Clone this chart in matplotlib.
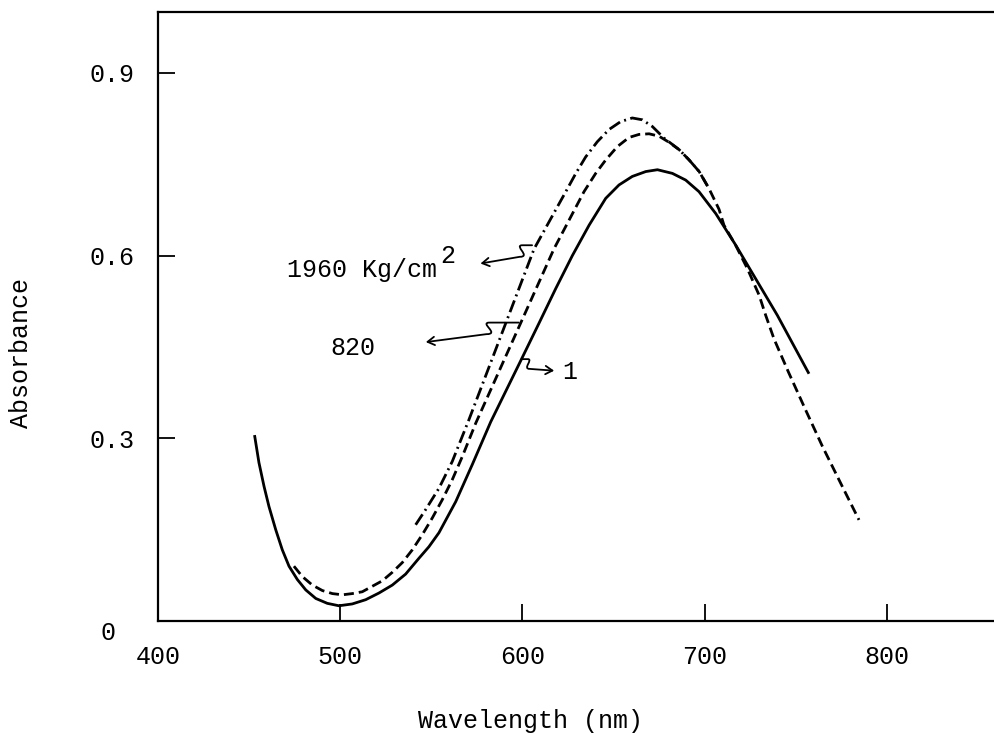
import matplotlib
matplotlib.use("Agg")
import matplotlib.pyplot as plt
import matplotlib.transforms as mtransforms
from matplotlib.path import Path
from matplotlib.patches import FancyArrowPatch

plt.rcParams['font.family'] = ['Liberation Mono', 'DejaVu Sans Mono']

# 1 kg/cm2 (solid)
wl_1 = [453.1, 455.4, 458.2, 460.9, 464.6, 468.2, 471.9, 476.5, 481.1, 486.6,
        492.9, 499.3, 506.6, 514.0, 521.3, 528.6, 535.9, 543.2, 548.7, 554.2,
        563.4, 572.5, 582.6, 599.0, 609.1, 618.3, 627.4, 636.6, 645.7, 653.0,
        660.3, 667.7, 674.1, 682.3, 689.6, 696.9, 706.1, 717.1, 728.0, 739.9,
        756.9]
abs_1 = [0.303, 0.260, 0.221, 0.188, 0.150, 0.117, 0.090, 0.068, 0.051, 0.037,
         0.029, 0.025, 0.028, 0.035, 0.046, 0.059, 0.077, 0.103, 0.122, 0.145,
         0.196, 0.257, 0.327, 0.427, 0.489, 0.546, 0.600, 0.650, 0.694, 0.716,
         0.730, 0.738, 0.741, 0.735, 0.724, 0.705, 0.669, 0.617, 0.562, 0.502,
         0.408]

# 820 kg/cm2 (dashed)
wl_820 = [474.6, 479.2, 484.7, 490.2, 495.7, 501.2, 506.6, 512.1, 517.6, 523.1,
          528.6, 534.1, 539.6, 545.1, 550.5, 556.0, 561.5, 567.0, 574.4, 617.3,
          633.8, 640.2, 645.7, 652.1, 658.5, 664.0, 669.5, 675.0, 680.5, 686.0,
          691.5, 697.0, 702.4, 707.9, 710.6, 717.0, 723.4, 729.9, 733.5, 738.1,
          746.1, 755.5, 764.6, 774.7, 784.7]
abs_820 = [0.090, 0.073, 0.059, 0.050, 0.045, 0.043, 0.045, 0.048, 0.057, 0.066,
           0.080, 0.096, 0.117, 0.142, 0.169, 0.199, 0.232, 0.270, 0.325, 0.611,
           0.705, 0.735, 0.757, 0.779, 0.794, 0.799, 0.800, 0.796, 0.786, 0.774,
           0.757, 0.738, 0.710, 0.676, 0.650, 0.617, 0.579, 0.535, 0.502, 0.463,
           0.408, 0.346, 0.287, 0.226, 0.166]

# 1960 kg/cm2 (dash-dot)
wl_1960 = [541.4, 546.9, 554.2, 561.5, 570.7, 606.4, 617.3, 623.8, 629.3, 634.7,
           641.1, 647.5, 653.9, 660.3, 665.8, 671.3, 677.7, 686.0, 691.5, 697.0,
           702.4]
abs_1960 = [0.158, 0.183, 0.218, 0.262, 0.331, 0.611, 0.670, 0.705, 0.735, 0.762,
            0.787, 0.807, 0.820, 0.826, 0.823, 0.812, 0.793, 0.774, 0.757, 0.738,
            0.710]

x_ticks = [400, 500, 600, 700, 800]
y_ticks = [0, 0.3, 0.6, 0.9]
y_tick_labels = ["0", "0.3", "0.6", "0.9"]

FS = 18

fig = plt.figure(figsize=(9.94, 7.33), dpi=100)
ax = fig.add_axes([158/994, 112/733, 836/994, 609/733])

ax.plot(wl_1, abs_1, color='black', lw=2.0)
ax.plot(wl_820, abs_820, color='black', lw=2.0, linestyle=(0, (3.6, 1.8)))
ax.plot(wl_1960, abs_1960, color='black', lw=2.0, linestyle=(0, (4.5, 1.6, 0.7, 1.6)))

ax.set_xlim(400, 858.8)
ax.set_ylim(0, 1.0)
ax.set_xticks(x_ticks)
ax.set_yticks(y_ticks)
ax.set_yticklabels(y_tick_labels)
ax.tick_params(direction='in', length=12, width=1.3, labelsize=FS, pad=17)
ax.spines['right'].set_visible(False)
for s in ['left', 'bottom', 'top']:
    ax.spines[s].set_linewidth(1.6)

# the "0" label sits lower and further left
zero_lbl = ax.get_yticklabels()[0]
zero_lbl.set_transform(zero_lbl.get_transform() +
                       mtransforms.ScaledTranslation(-0.19, -0.09, fig.dpi_scale_trans))

ax.set_xlabel("Wavelength (nm)", fontsize=FS)
ax.xaxis.set_label_coords(0.446, -0.145)
ax.set_ylabel("Absorbance", fontsize=FS)
ax.yaxis.set_label_coords(-0.150, 0.44)


def squiggle_arrow(x0, y0, x1, y1, xe, ye, bend):
    # short horizontal lead, a small S kink, then a straight run to the head
    verts = [(x0, y0), (x1, y0),
             (x1 - bend, y0), (x1 + bend, y1), (x1 - 0.3 * bend, y1),
             (xe, ye)]
    codes = [Path.MOVETO, Path.LINETO, Path.CURVE4, Path.CURVE4, Path.CURVE4, Path.LINETO]
    p = FancyArrowPatch(path=Path(verts, codes), arrowstyle='->,head_length=5,head_width=3',
                        color='black', lw=1.3, transform=ax.transData)
    ax.add_patch(p)


squiggle_arrow(605.3, 0.617, 600.0, 0.598, 577.0, 0.587, 5)
squiggle_arrow(598.0, 0.490, 582.0, 0.471, 547.0, 0.458, 6)
squiggle_arrow(599.5, 0.430, 603.0, 0.414, 617.4, 0.411, -3)

ax.text(470.8, 0.577, "1960 Kg/cm", fontsize=FS, va='center', ha='left')
ax.text(554.8, 0.600, "2", fontsize=FS, va='center', ha='left')
ax.text(507.0, 0.448, "820", fontsize=FS, va='center', ha='center')
ax.text(621.9, 0.409, "1", fontsize=FS, va='center', ha='left')

fig.savefig("out.png", dpi=100)
